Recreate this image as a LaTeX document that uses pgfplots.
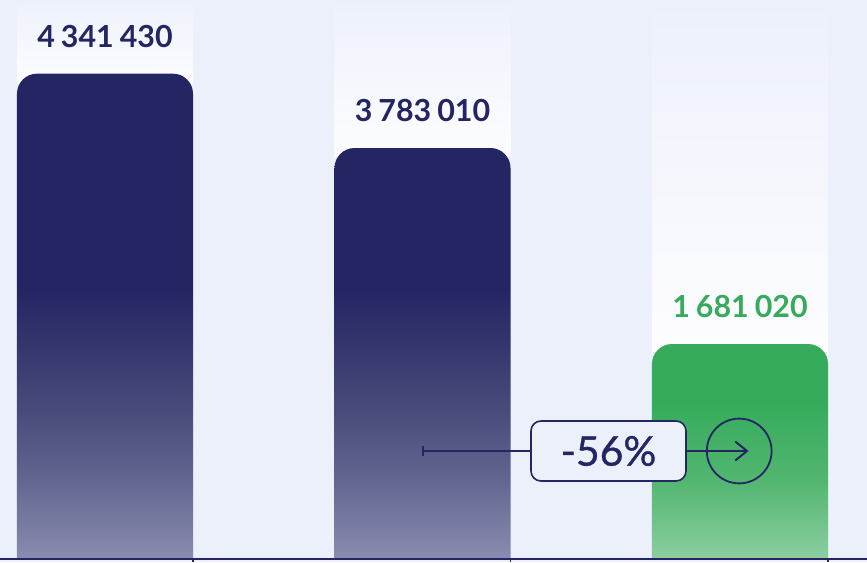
\documentclass[border=0pt]{standalone}
\usepackage{fontspec}
\setmainfont{Lato}
\newfontfamily\latomed{Lato}[FakeBold=0.9]
\usepackage{pgfplots}
\pgfplotsset{compat=1.18}
\definecolor{bgc}{HTML}{ECF0FA}
\definecolor{navy}{HTML}{232663}
\definecolor{grn}{HTML}{35AB5B}
\definecolor{colTop}{HTML}{EDF1FB}
\definecolor{colBot}{HTML}{FDFDFF}
\definecolor{navyL}{RGB}{138,141,175}
\definecolor{navyMb}{RGB}{99,102,144}
\definecolor{navyMa}{RGB}{69,72,120}
\definecolor{grnL}{RGB}{140,206,161}
\definecolor{grnM}{RGB}{82,182,112}
\pgfdeclareverticalshading{barA}{100bp}{color(0bp)=(navyL); color(27.17bp)=(navyL); color(34.94bp)=(navyMb); color(42.81bp)=(navyMa); color(53.64bp)=(navy); color(100bp)=(navy)}
\pgfdeclareverticalshading{barB}{100bp}{color(0bp)=(navyL); color(27.54bp)=(navyL); color(36.66bp)=(navyMb); color(45.90bp)=(navyMa); color(58.60bp)=(navy); color(100bp)=(navy)}
\pgfdeclareverticalshading{barC}{100bp}{color(0bp)=(grnL); color(29.64bp)=(grnL); color(46.31bp)=(grnM); color(63.19bp)=(grn); color(100bp)=(grn)}
\newcommand{\gs}{\kern3pt}
\begin{document}
\begin{tikzpicture}
\fill[bgc] (0,-1.5pt) rectangle (433.5pt,279.5pt);
\begin{axis}[
  at={(0,0)}, anchor=south west,
  scale only axis, width=433.5pt, height=279.5pt,
  xmin=-0.33071, xmax=2.4, ymin=0, ymax=5.0,
  axis x line*=bottom, axis y line=none,
  x axis line style={draw=navy, line width=1pt},
  xtick={0.2772,1.2772,2.2772}, xticklabels={},
  ytick=\empty,
  tick align=outside, major tick length=1.5pt,
  xtick style={draw=navy, line width=0.6pt},
  axis on top,
]
% light columns behind the bars
\addplot[draw=none, top color=colTop, bottom color=colBot] coordinates {(-0.2772,4.25) (-0.2772,5.0) (0.2772,5.0) (0.2772,4.25)} -- cycle;
\addplot[draw=none, top color=colTop, bottom color=colBot] coordinates {(0.7228,3.60) (0.7228,4.964) (1.2772,4.964) (1.2772,3.60)} -- cycle;
\addplot[draw=none, top color=colTop, bottom color=colBot] coordinates {(1.7228,1.85) (1.7228,4.893) (2.2772,4.893) (2.2772,1.85)} -- cycle;
% bars
\addplot[draw=none, shading=barA, rounded corners=10pt] coordinates {(-0.2772,-0.2) (-0.2772,4.341) (0.2772,4.341) (0.2772,-0.2)} -- cycle;
\addplot[draw=none, shading=barB, rounded corners=10pt] coordinates {(0.7228,-0.2) (0.7228,3.676) (1.2772,3.676) (1.2772,-0.2)} -- cycle;
\addplot[draw=none, shading=barC, rounded corners=10pt] coordinates {(1.7228,-0.2) (1.7228,1.923) (2.2772,1.923) (2.2772,-0.2)} -- cycle;
% value labels
\addplot[draw=none, mark=none, nodes near coords, point meta=explicit symbolic,
  every node near coord/.style={anchor=south, yshift=13pt, inner sep=0pt, text=navy, font=\fontsize{15.2pt}{18pt}\selectfont\bfseries}]
  coordinates {(0,4.341)[4\gs341\gs430] (1,3.676)[3\gs783\gs010]};
\addplot[draw=none, mark=none, nodes near coords, point meta=explicit symbolic,
  every node near coord/.style={anchor=south, yshift=13pt, inner sep=0pt, text=grn, font=\fontsize{15.2pt}{18pt}\selectfont\bfseries}]
  coordinates {(2,1.923)[1\gs681\gs020]};
% change annotation
\draw[navy, line width=1pt] (1,0.966) -- (1.40,0.966);
\draw[navy, line width=1pt] ([yshift=-2.5pt]1,0.966) -- ([yshift=2.5pt]1,0.966);
\draw[navy, line width=1pt] (1.75,0.966) -- (2.022,0.966) coordinate (tip);
\node[draw=navy, line width=0.8pt, fill=bgc, rounded corners=5pt, minimum width=77.5pt, minimum height=30pt, inner sep=0pt, text=navy, font=\fontsize{20.5pt}{24pt}\latomed] (pct) at (1.5858,0.966) {-56\%};
\draw[navy, line width=0.9pt] (1.9975,0.966) circle[radius=16.2pt];
\draw[navy, line width=1pt] ([xshift=-5.85pt,yshift=4.75pt]tip) -- (tip) -- ([xshift=-5.85pt,yshift=-4.75pt]tip);
\end{axis}
\pgfresetboundingbox
\useasboundingbox (0,-1.5pt) rectangle (433.5pt,279.5pt);
\end{tikzpicture}
\end{document}
